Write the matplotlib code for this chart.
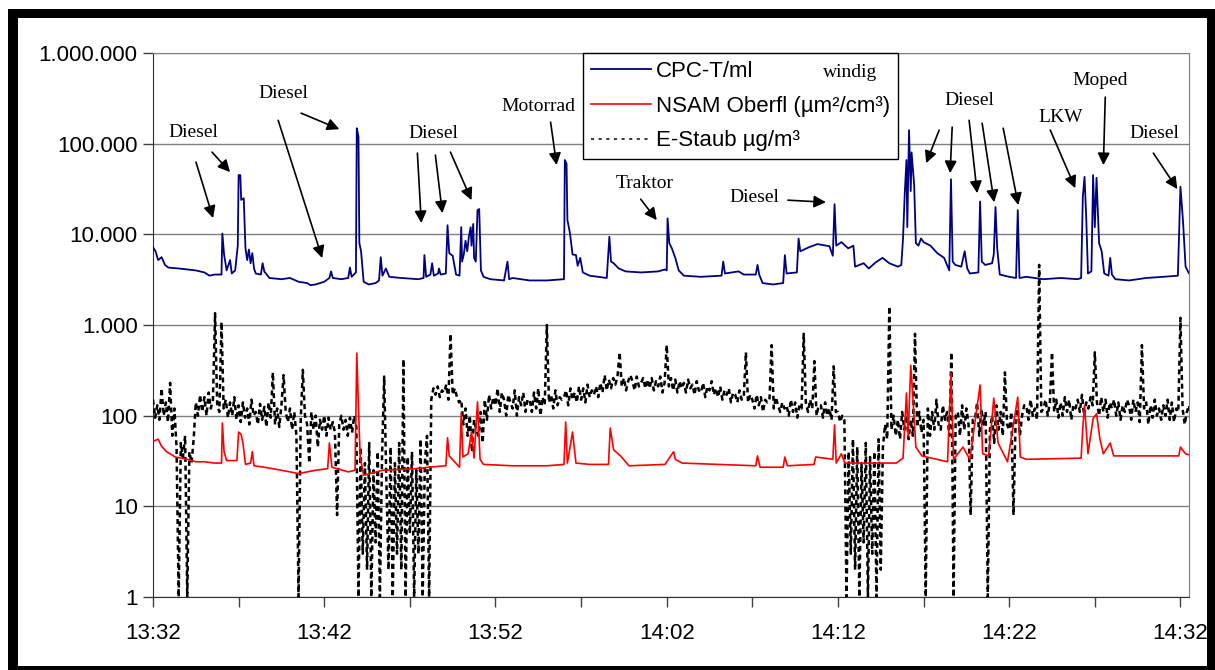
import numpy as np
import matplotlib.pyplot as plt
from matplotlib.patches import Rectangle
from matplotlib.ticker import FixedLocator, FuncFormatter, NullFormatter

# time axis: minutes after 13:32
cpc_t = [0.0, 0.15, 0.3, 0.5, 0.7, 0.9, 1.5, 2.0, 2.5, 3.0, 3.3, 3.6, 4.0, 4.05, 4.15, 4.3, 4.5, 4.6,
         4.8, 4.95, 5.0, 5.1, 5.15, 5.3, 5.4, 5.5, 5.6, 5.7, 5.8, 5.9, 6.0, 6.3, 6.4, 6.5, 6.8, 7.5,
         8.0, 8.5, 9.0, 9.2, 9.5, 10.0, 10.3, 10.4, 10.5, 11.0, 11.4, 11.5, 11.6, 11.85, 11.9, 12.0,
         12.05, 12.15, 12.3, 12.6, 13.0, 13.2, 13.3, 13.4, 13.6, 13.8, 14.5, 15.5, 15.8, 15.85, 15.95,
         16.2, 16.3, 16.4, 16.65, 16.7, 16.8, 17.1, 17.2, 17.3, 17.5, 17.7, 17.9, 18.0, 18.05, 18.15,
         18.25, 18.35, 18.45, 18.55, 18.6, 18.7, 18.75, 18.85, 18.95, 19.05, 19.15, 19.3, 19.7, 20.5,
         20.7, 20.8, 21.0, 22.0, 23.0, 24.0, 24.05, 24.15, 24.2, 24.35, 24.5, 24.7, 24.8, 24.95, 25.1,
         25.5, 26.0, 26.5, 26.65, 26.75, 26.9, 27.2, 27.6, 28.5, 29.5, 29.9, 30.0, 30.05, 30.15, 30.3,
         30.5, 30.7, 31.0, 32.0, 33.2, 33.3, 33.4, 34.2, 34.5, 35.2, 35.3, 35.4, 35.6, 36.2, 36.8,
         36.9, 37.0, 37.6, 37.7, 37.8, 38.3, 38.8, 39.5, 39.7, 39.8, 39.9, 40.2, 40.6, 40.9, 41.0,
         41.5, 41.8, 42.2, 42.6, 43.0, 43.5, 43.7, 43.8, 43.9, 44.0, 44.05, 44.15, 44.25, 44.3, 44.45,
         44.55, 44.7, 44.85, 45.0, 45.4, 45.8, 46.2, 46.5, 46.6, 46.7, 46.85, 47.2, 47.4, 47.55, 47.7,
         48.2, 48.3, 48.4, 48.6, 49.0, 49.1, 49.2, 49.3, 49.45, 50.0, 50.4, 50.5, 50.6, 51.0, 52.0,
         53.0, 54.0, 54.2, 54.3, 54.4, 54.5, 54.6, 54.8, 54.9, 55.0, 55.1, 55.25, 55.4, 55.55, 55.8,
         55.9, 56.0, 56.2, 57.0, 58.0, 59.0, 59.85, 59.95, 60.0, 60.15, 60.3, 60.5, 60.76]
cpc_v = [7200, 6500, 5200, 5600, 4600, 4300, 4200, 4100, 4000, 3800, 3500, 3600, 3600, 10200, 6000,
         4000, 5200, 3700, 4000, 7500, 45000, 45000, 24000, 25000, 7000, 5200, 6800, 4800, 6200, 4200,
         3700, 3600, 4800, 3900, 3300, 3200, 3300, 3000, 2900, 2750, 2800, 3000, 3300, 3900, 3300,
         3200, 3300, 4300, 3400, 3800, 148000, 120000, 8000, 6500, 3000, 2800, 2900, 3100, 5600, 3500,
         4200, 3400, 3300, 3200, 3300, 5900, 3400, 3600, 4800, 3500, 3700, 4200, 3600, 3700, 12600,
         6200, 5800, 3600, 3500, 12000, 5000, 6000, 8500, 6500, 9500, 12000, 7500, 13000, 5500, 5000,
         18500, 19000, 4000, 3400, 3200, 3100, 5000, 3200, 3300, 3100, 3100, 3200, 66000, 60000,
         14400, 10300, 6000, 5900, 4500, 5500, 3800, 3500, 3400, 3300, 9400, 5000, 4800, 4200, 3900,
         3800, 3900, 4100, 4000, 15000, 8000, 7000, 5500, 4000, 3500, 3400, 3500, 5000, 3700, 3900,
         3600, 3600, 4600, 3600, 2900, 2800, 2900, 5900, 3700, 3800, 9000, 6500, 7200, 7800, 7400,
         5800, 21500, 7500, 8200, 7000, 7500, 4400, 4800, 4200, 4900, 5500, 4800, 4400, 4600, 9000,
         28000, 66000, 12000, 141000, 30000, 80000, 35000, 8000, 7500, 9000, 8200, 7500, 6200, 5500,
         4000, 40500, 5000, 4600, 4400, 6500, 4200, 3700, 3800, 23000, 5000, 4600, 4800, 6000, 20000,
         7000, 3600, 3400, 3300, 18500, 3300, 3400, 3200, 3300, 3200, 3300, 26000, 43000, 15000, 3700,
         3900, 45000, 12000, 42000, 8000, 6500, 3700, 3500, 5500, 3600, 3200, 3100, 3300, 3400, 3500,
         15000, 33500, 14000, 4400, 3700, 4000]

nsam_t = [0.0, 0.3, 0.5, 0.8, 1.3, 2.0, 2.5, 3.0, 3.6, 4.0, 4.05, 4.15, 4.3, 4.9, 5.0, 5.15, 5.25,
          5.4, 5.7, 5.8, 5.9, 6.5, 7.5, 8.5, 9.5, 10.2, 10.3, 10.45, 11.4, 11.8, 11.9, 12.0, 12.1,
          12.3, 13.4, 15.3, 16.1, 17.1, 17.2, 17.3, 17.9, 18.0, 18.1, 18.4, 18.6, 18.75, 18.95, 19.1,
          19.3, 21.0, 23.0, 24.0, 24.1, 24.2, 24.5, 24.7, 25.5, 26.6, 26.7, 26.9, 27.3, 27.8, 29.9,
          30.1, 30.4, 30.5, 30.9, 33.0, 35.2, 35.3, 35.45, 36.8, 36.9, 37.05, 38.6, 38.7, 39.7, 39.8,
          39.9, 40.2, 40.4, 43.4, 43.8, 44.0, 44.1, 44.25, 44.35, 44.55, 44.9, 46.4, 46.6, 46.75,
          47.3, 47.7, 48.3, 48.45, 48.8, 49.1, 49.35, 49.9, 50.5, 50.65, 51.0, 54.2, 54.3, 54.4, 54.6,
          54.9, 55.1, 55.3, 55.5, 55.9, 56.1, 59.9, 60.0, 60.3, 60.76]
nsam_v = [52, 55, 46, 40, 35, 33, 31, 31, 30, 30, 83, 40, 32, 32, 66, 62, 50, 29, 30, 40, 28, 27,
          25, 23, 25, 26, 50, 27, 24, 25, 490, 120, 35, 22, 25, 26, 27, 28, 57, 36, 27, 108, 35, 38,
          66, 34, 142, 33, 29, 28, 28, 29, 85, 30, 66, 30, 29, 29, 73, 42, 36, 28, 29, 33, 40, 33,
          30, 29, 28, 36, 27, 27, 35, 28, 29, 35, 33, 79, 30, 38, 30, 30, 34, 178, 60, 360, 190, 45,
          36, 31, 295, 33, 45, 33, 218, 38, 36, 156, 50, 31, 160, 35, 33, 34, 75, 130, 38, 93, 105,
          55, 38, 50, 36, 36, 45, 38, 36]

# E-Staub, one reading every 7.5 s (eight per row = one minute)
estaub_v = [150, 95, 130, 90, 200, 100, 140, 85,
            230, 60, 120, 45, 1, 50, 35, 60,
            1, 40, 30, 55, 140, 100, 170, 110,
            160, 100, 180, 120, 150, 1350, 130, 110,
            1080, 120, 150, 95, 140, 100, 160, 90,
            130, 85, 140, 95, 120, 80, 150, 100,
            110, 80, 135, 90, 125, 75, 140, 95,
            300, 80, 120, 75, 130, 280, 110, 85,
            120, 70, 110, 60, 1, 90, 320, 100,
            80, 30, 110, 70, 100, 45, 90, 70,
            100, 60, 95, 70, 85, 65, 8, 80,
            100, 70, 90, 60, 95, 65, 100, 75,
            1, 45, 3, 30, 2, 50, 1, 25,
            4, 40, 1, 35, 270, 20, 2, 45,
            1, 30, 3, 50, 2, 420, 1, 35,
            5, 40, 1, 25, 3, 55, 1, 30,
            60, 1, 150, 200, 170, 210, 160, 190,
            180, 220, 150, 800, 170, 200, 160, 140,
            150, 80, 120, 60, 100, 40, 90, 70,
            60, 110, 50, 150, 90, 170, 120, 160,
            130, 200, 110, 180, 150, 100, 170, 140,
            120, 190, 100, 160, 130, 180, 110, 150,
            150, 110, 180, 120, 200, 100, 160, 130,
            1000, 140, 170, 120, 190, 130, 160, 150,
            160, 190, 130, 200, 150, 180, 140, 210,
            150, 200, 140, 220, 160, 190, 170, 210,
            160, 230, 180, 280, 190, 250, 200, 260,
            220, 270, 500, 210, 260, 190, 240, 280,
            240, 190, 270, 210, 230, 260, 200, 250,
            200, 260, 190, 240, 210, 270, 180, 230,
            600, 210, 260, 190, 250, 180, 240, 200,
            230, 180, 250, 200, 220, 170, 240, 190,
            180, 230, 160, 210, 190, 240, 170, 200,
            160, 210, 150, 190, 170, 200, 140, 180,
            170, 140, 190, 150, 160, 500, 140, 170,
            150, 120, 170, 130, 160, 110, 150, 140,
            150, 600, 120, 160, 130, 110, 140, 120,
            130, 100, 150, 110, 140, 95, 130, 120,
            800, 140, 110, 150, 120, 400, 100, 130,
            130, 95, 140, 100, 120, 90, 350, 110,
            110, 85, 100, 90, 1, 40, 3, 55,
            2, 45, 1, 30, 4, 50, 1, 35,
            3, 40, 1, 55, 2, 45, 80, 55,
            1600, 70, 100, 60, 90, 55, 110, 70,
            100, 55, 90, 60, 800, 75, 110, 65,
            90, 1, 120, 60, 110, 70, 150, 80,
            70, 130, 90, 110, 60, 500, 1, 100,
            110, 60, 130, 70, 120, 80, 8, 90,
            90, 140, 60, 120, 80, 110, 1, 70,
            100, 50, 130, 70, 110, 60, 300, 80,
            70, 110, 8, 90, 120, 60, 100, 130,
            130, 90, 150, 100, 120, 90, 4600, 110,
            120, 150, 100, 140, 500, 110, 150, 95,
            140, 100, 160, 110, 150, 90, 130, 120,
            150, 110, 170, 100, 140, 120, 160, 130,
            500, 140, 100, 160, 110, 150, 95, 140,
            120, 150, 100, 140, 90, 130, 110, 150,
            130, 90, 150, 110, 140, 85, 600, 120,
            140, 80, 130, 95, 150, 100, 120, 90,
            130, 100, 150, 90, 140, 85, 120, 110,
            1200, 120, 80, 110, 130, 95, 100, 90]
estaub_t = np.arange(len(estaub_v)) * 0.125

x_ticks = [0, 10, 20, 30, 40, 50, 60]
x_minor = [5, 15, 25, 35, 45, 55]
y_ticks = [1, 10, 100, 1000, 10000, 100000, 1000000]

# label, text position, arrows (start, end)
notes = [
    ("Diesel", (2.34, 134000), [((2.51, 62500), (3.51, 15100)), ((3.45, 80600), (4.50, 48500))]),
    ("Diesel", (7.60, 360000), [((7.31, 181000), (9.88, 5470)), ((8.65, 217000), (10.88, 144500))]),
    ("Diesel", (16.37, 130600), [((15.44, 78600), (15.67, 13300)), ((16.49, 74700), (16.90, 17100)),
                                 ((17.37, 80600), (18.60, 23800))]),
    ("Motorrad", (22.51, 259000), [((23.22, 172600), (23.57, 58000))]),
    ("Traktor", (28.71, 36700), [((28.48, 24400), (29.42, 14350))]),
    ("Diesel", (35.09, 25300), [((37.08, 23800), (39.30, 22600))]),
    ("Diesel", (47.66, 301000), [((45.91, 141000), (45.15, 60900)), ((46.67, 152000), (46.55, 47300)),
                                 ((47.66, 181000), (48.13, 28400)), ((48.42, 168000), (49.12, 22600)),
                                 ((49.65, 148000), (50.53, 21000))]),
    ("LKW", (52.98, 196000), [((52.40, 141000), (53.86, 32300))]),
    ("Moped", (55.32, 501000), [((55.61, 326000), (55.50, 58000))]),
    ("Diesel", (58.48, 130600), [((58.42, 78600), (59.82, 31500))]),
]

plt.rcParams['font.family'] = ['Liberation Sans', 'DejaVu Sans']

fig = plt.figure(figsize=(12.15, 6.7), dpi=100)
fig.patches.append(Rectangle((8 / 1215, 0), 1 - 8 / 1215, 1 - 9 / 670, transform=fig.transFigure,
                             facecolor='black', edgecolor='none', zorder=-10))
fig.patches.append(Rectangle((18 / 1215, 4 / 670), 1189 / 1215, 648 / 670, transform=fig.transFigure,
                             facecolor='white', edgecolor='none', zorder=-9))

ax = fig.add_axes([153 / 1215, 73 / 670, 1036 / 1215, 544 / 670])
ax.set_yscale('log')
ax.set_ylim(1, 1e6)
ax.set_xlim(0, 60.5)

ax.plot(estaub_t, estaub_v, color='black', lw=1.8, ls=(0, (2, 1.5)), label='E-Staub µg/m³', zorder=3)
ax.plot(nsam_t, nsam_v, color='#ff0000', lw=1.2, label='NSAM Oberfl (µm²/cm³)', zorder=4)
ax.plot(cpc_t, cpc_v, color='#000080', lw=1.3, label='CPC-T/ml', zorder=5)

ax.yaxis.set_major_locator(FixedLocator(y_ticks))
ax.yaxis.set_minor_locator(FixedLocator([]))
ax.yaxis.set_major_formatter(FuncFormatter(lambda v, p: f"{int(round(v)):,}".replace(',', '.')))
ax.xaxis.set_major_locator(FixedLocator(x_ticks))
ax.xaxis.set_minor_locator(FixedLocator(x_minor))
ax.xaxis.set_minor_formatter(NullFormatter())
ax.xaxis.set_major_formatter(FuncFormatter(
    lambda m, p: f"{(32 + int(m)) // 60 + 13}:{(32 + int(m)) % 60:02d}"))
ax.tick_params(axis='y', which='major', length=7, width=1, labelsize=16, pad=4, color='#404040')
ax.tick_params(axis='x', which='both', length=7, width=1, labelsize=16, pad=12, color='#404040')

ax.grid(axis='y', which='major', color='#808080', lw=1)
ax.set_axisbelow(True)
for s in ['top', 'right']:
    ax.spines[s].set_color('#808080')
for s in ['left', 'bottom']:
    ax.spines[s].set_color('#303030')

for label, txy, arrows in notes:
    ax.text(txy[0], txy[1], label, ha='center', va='center', fontsize=14,
            family='Liberation Serif', zorder=6)
    for start, end in arrows:
        ax.annotate('', xy=end, xytext=start,
                    arrowprops=dict(arrowstyle='-|>', color='black', lw=1.2,
                                    mutation_scale=18, shrinkA=0, shrinkB=0), zorder=6)

h, l = ax.get_legend_handles_labels()
leg = ax.legend(h[::-1], l[::-1], loc='upper left', bbox_to_anchor=(0.4155, 1.0), fontsize=16,
                frameon=True, fancybox=False, edgecolor='black', framealpha=1,
                borderaxespad=0, borderpad=0.35, labelspacing=0.62, handlelength=2.7,
                handletextpad=0.2)
leg.get_frame().set_linewidth(1)
leg.get_lines()[2].set_linewidth(1.1)
leg.get_lines()[2].set_linestyle((0, (2, 3)))
leg.set_zorder(7)
ax.text(0.673, 0.965, 'windig', transform=ax.transAxes, ha='center', va='center', fontsize=14,
        family='Liberation Serif', zorder=8)

fig.savefig('out.png', dpi=100)
